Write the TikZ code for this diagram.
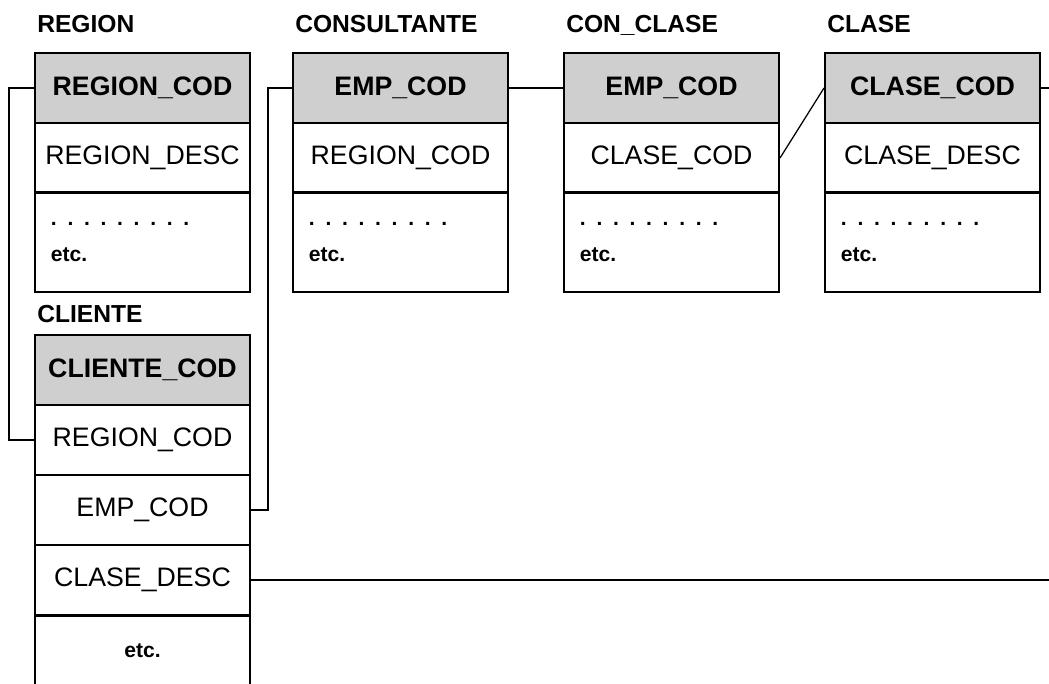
\documentclass[tikz,border=0pt]{standalone}
\usepackage{fontspec}
\setmainfont{Liberation Sans}
\usetikzlibrary{positioning,calc}

% spaced dots for the open rows
\newcommand{\etcdots}{\foreach \i in {1,...,9}{.\hspace{7.6pt}}}

\begin{document}
\begin{tikzpicture}[
  x=0.025cm, y=-0.025cm,
  title/.style={font=\fontsize{17.5}{20}\selectfont\bfseries, anchor=base west, inner sep=0},
  field/.style={draw, line width=1.4pt, minimum width=5.375cm, minimum height=1.75cm,
    inner sep=0, font=\fontsize{19}{22}\selectfont},
  keyfield/.style={field, fill=gray!38, font=\fontsize{19}{22}\selectfont\bfseries},
  etcrow/.style={field, minimum height=2.5cm, text width=4.575cm, align=left,
    font=\fontsize{15}{25.5}\selectfont\bfseries},
  link/.style={line width=0.9pt}
]
\useasboundingbox (0,0) rectangle (1049,683);

% Top row of tables
\foreach \tab/\cx/\ttl/\keyf/\secf in {
    region/142.5/REGION/REGION\_COD/REGION\_DESC,
    consult/400.5/CONSULTANTE/EMP\_COD/REGION\_COD,
    conclase/671.5/CON\_CLASE/EMP\_COD/CLASE\_COD,
    clase/932.5/CLASE/CLASE\_COD/CLASE\_DESC}{
  \node[title] (\tab-t) at (\cx-105.5,33) {\ttl};
  \node[keyfield] (\tab-h) at (\cx,88) {\keyf};
  \node[field] (\tab-2) at (\cx,158) {\secf};
  \node[etcrow] (\tab-3) at (\cx,242) {\etcdots\\etc.};
}

% CLIENTE table
\node[title] (cli-t) at (37,322) {CLIENTE};
\node[keyfield] (cli-h) at (142.5,370) {CLIENTE\_COD};
\foreach \nm/\f/\cy in {reg/REGION\_COD/440, emp/EMP\_COD/510, desc/CLASE\_DESC/580}{
  \node[field] (cli-\nm) at (142.5,\cy) {\f};
}
\node[field, font=\fontsize{15}{18}\selectfont\bfseries] (cli-etc) at (142.5,651) {etc.};

% Links between keys
\coordinate (out-clase) at (1049,88);
\coordinate (out-desc) at (1049,580);
\draw[link] (region-h.west) -- ++(-25,0) |- (cli-reg.west);
\draw[link] (consult-h.west) -- ++(-24,0) |- (cli-emp.east);
\draw[link] (consult-h.east) -- (conclase-h.west);
\draw[link] (conclase-2.east) -- (clase-h.west);
\draw[link] (clase-h.east) -- (out-clase);
\draw[link] (cli-desc.east) -- (out-desc);
\end{tikzpicture}
\end{document}
